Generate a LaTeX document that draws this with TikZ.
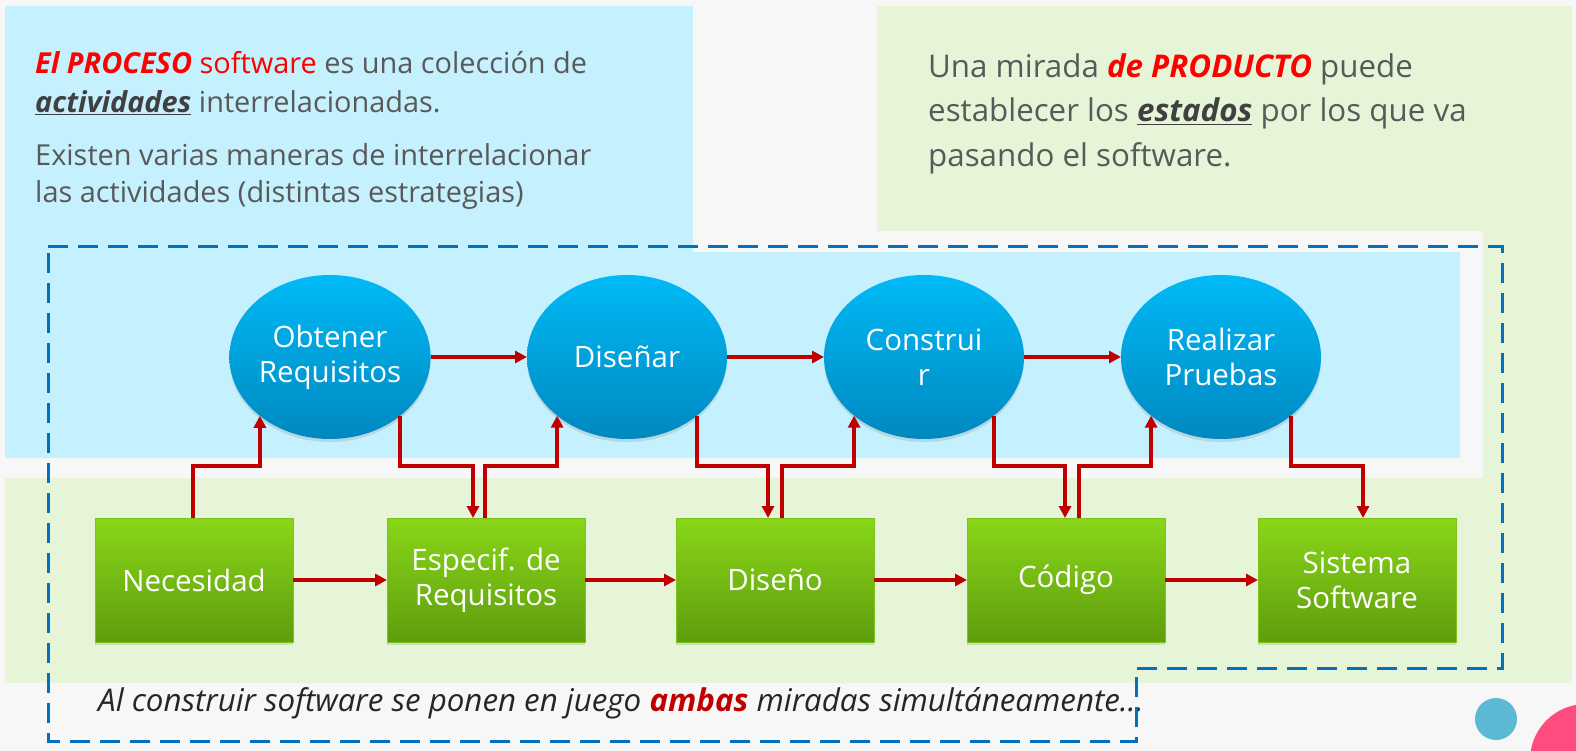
\documentclass[tikz,border=0pt]{standalone}
\usepackage{fontspec}
\setmainfont{Open Sans}
\usetikzlibrary{shapes.geometric,arrows.meta,calc,shadows}
\definecolor{bgc}{HTML}{F7F7F7}
\definecolor{bluep}{HTML}{C5F0FD}
\definecolor{greenp}{HTML}{E6F5D7}
\definecolor{txt}{HTML}{595959}
\definecolor{utxt}{HTML}{404040}
\definecolor{dred}{HTML}{C00000}
\definecolor{bred}{HTML}{FF0000}
\definecolor{dashc}{HTML}{0070C0}
\definecolor{elltop}{HTML}{00BAF6}
\definecolor{ellbot}{HTML}{0088C0}
\definecolor{boxtop}{HTML}{89D618}
\definecolor{boxbot}{HTML}{5F9D0E}
\definecolor{boxline}{HTML}{7CC41A}
\definecolor{cyc}{HTML}{5DB8D4}
\definecolor{pinkc}{HTML}{FF4B7D}
\tikzset{
  proc/.style={ellipse, minimum width=200pt, minimum height=164pt, inner sep=0pt, outer sep=0pt,
    top color=elltop, bottom color=ellbot, draw=none, text=white, align=center,
    font=\fontsize{29.5}{35}\selectfont,
    drop shadow={opacity=0.22, shadow xshift=0pt, shadow yshift=-3pt}},
  state/.style={rectangle, minimum width=198pt, minimum height=124pt, inner sep=0pt, outer sep=0pt,
    top color=boxtop, bottom color=boxbot, draw=boxline, line width=0.8pt, text=white, align=center,
    font=\fontsize{29.5}{35}\selectfont,
    drop shadow={opacity=0.22, shadow xshift=0pt, shadow yshift=-3pt}},
  conn/.style={draw=dred, line width=3.6pt, -{Triangle[length=12pt,width=12pt]}},
  para/.style={anchor=base west, inner sep=0pt, text=txt, font=\fontsize{28.9}{37}\selectfont},
  parb/.style={anchor=base west, inner sep=0pt, text=txt, font=\fontsize{31.3}{44}\selectfont},
  frame/.style={draw=dashc, line width=3pt, dash pattern=on 20pt off 10pt}
}
\begin{document}
\begin{tikzpicture}[x=1pt,y=-1pt]
\useasboundingbox (0,0) rectangle (1576,751);
% backgrounds
\fill[bgc] (0,0) rectangle (1576,751);
\fill[greenp] (877,6) rectangle (1572,683);
\fill[greenp] (5,478) rectangle (1572,683);
\fill[bgc] (693,231) rectangle (1483,478);
\fill[bluep] (5,6) rectangle (693,458);
\fill[bluep] (5,252) rectangle (1460,458);
% decorative circles
\fill[cyc] (1496,719) circle (21);
\fill[pinkc] (1586,760) circle (56);
% texts
\node[para] (t1) at (35,74) {\textcolor{bred}{\textbf{\textit{El PROCESO}} software} es una colección de};
\node[para] (t2) at (35,113) {\textcolor{utxt}{\underline{\textbf{\textit{actividades}}}} interrelacionadas.};
\node[para] (t3) at (35,166) {Existen varias maneras de interrelacionar};
\node[para] (t4) at (35,203) {las actividades (distintas estrategias)};
\node[parb] (r1) at (928,78) {Una mirada \textcolor{bred}{\textbf{\textit{de PRODUCTO}}} puede};
\node[parb] (r2) at (928,122) {establecer los \textcolor{utxt}{\underline{\textbf{\textit{estados}}}} por los que va};
\node[parb] (r3) at (928,167) {pasando el software.};
\node[parb, text=black!85] (bt) at (98,711) {\textit{Al construir software se ponen en juego \textcolor{dred}{\textbf{ambas}} miradas simultáneamente…}};
% dashed frame
\coordinate (f1) at (48,247);
\coordinate (f2) at (1502,247);
\coordinate (f3) at (1502,668);
\coordinate (f4) at (1136,668);
\coordinate (f5) at (1136,741);
\coordinate (f6) at (48,741);
\draw[frame] (f1) -- (f2) -- (f3) -- (f4) -- (f5) -- (f6) -- cycle;
% process ellipses
\node[proc] (obt) at (330,357) {Obtener\\Requisitos};
\node[proc] (dis) at (627,357) {Diseñar};
\node[proc] (con) at (924,357) {Construi\\r};
\node[proc] (rea) at (1221,357) {Realizar\\Pruebas};
% product boxes
\node[state] (nec) at (194,580) {Necesidad};
\node[state] (esp) at (486,580) {Especif. de\\Requisitos};
\node[state] (dso) at (775,580) {Diseño};
\node[state] (cod) at (1066,580) {Código};
\node[state] (sis) at (1357,580) {Sistema\\Software};
% horizontal connectors
\draw[conn] (obt.east) -- (dis.west);
\draw[conn] (dis.east) -- (con.west);
\draw[conn] (con.east) -- (rea.west);
\draw[conn] (nec.east) -- (esp.west);
\draw[conn] (esp.east) -- (dso.west);
\draw[conn] (dso.east) -- (cod.west);
\draw[conn] (cod.east) -- (sis.west);
% elbow level
\coordinate (ym) at (0,466);
% box -> ellipse (up)
\coordinate (u1) at ($(nec.north)+(-1,0)$);
\coordinate (u2) at ($(esp.north)+(-1,0)$);
\coordinate (u3) at ($(dso.north)+(7,0)$);
\coordinate (u4) at ($(cod.north)+(13,0)$);
\draw[conn] (u1) -- (u1 |- ym) -- (obt.220 |- ym) -- (obt.220);
\draw[conn] (u2) -- (u2 |- ym) -- (dis.220 |- ym) -- (dis.220);
\draw[conn] (u3) -- (u3 |- ym) -- (con.220 |- ym) -- (con.220);
\draw[conn] (u4) -- (u4 |- ym) -- (rea.220 |- ym) -- (rea.220);
% ellipse -> box (down)
\coordinate (d1) at ($(esp.north)+(-13,0)$);
\coordinate (d2) at ($(dso.north)+(-7,0)$);
\coordinate (d3) at ($(cod.north)+(-1,0)$);
\coordinate (d4) at ($(sis.north)+(6,0)$);
\draw[conn] (obt.320) -- (obt.320 |- ym) -- (d1 |- ym) -- (d1);
\draw[conn] (dis.320) -- (dis.320 |- ym) -- (d2 |- ym) -- (d2);
\draw[conn] (con.320) -- (con.320 |- ym) -- (d3 |- ym) -- (d3);
\draw[conn] (rea.320) -- (rea.320 |- ym) -- (d4 |- ym) -- (d4);
\end{tikzpicture}
\end{document}
